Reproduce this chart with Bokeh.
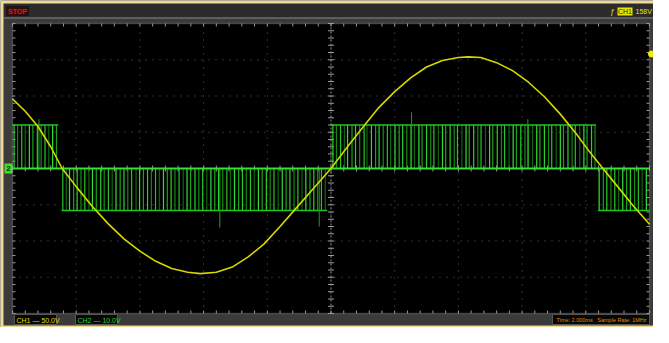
import numpy as np
from bokeh.plotting import figure
from bokeh.models import Range1d, Label, BoxAnnotation
from bokeh.embed import file_html
from bokeh.resources import INLINE

# ---------------- data ----------------
# CH1 (yellow): time in ms, voltage in V   (50 V/div)
ch1_t = [-10.0, -9.6, -9.2, -8.8, -8.44, -8.0, -7.5, -7.0, -6.5, -6.0, -5.5, -5.0,
         -4.5, -4.1, -3.6, -3.1, -2.6, -2.1, -1.6, -1.1, -0.6, 0.0, 0.5, 1.0, 1.5,
         2.0, 2.5, 3.0, 3.5, 4.0, 4.3, 4.7, 5.2, 5.7, 6.2, 6.7, 7.2, 7.7, 8.1, 8.5,
         9.0, 9.5, 10.0]
ch1_v = [96, 79, 58, 30, 0, -25, -52, -76, -97, -114, -128, -138,
         -143, -145, -143, -136, -122, -104, -80, -55, -30, 0, 29, 57, 84,
         106, 125, 140, 149, 153, 154, 153, 146, 135, 119, 99, 75, 48, 24, 2,
         -25, -52, -77]

# CH2 (green) PWM: pulse times in ms (10 V/div)
ch2_high_t = [-9.95, -9.84, -9.71, -9.6, -9.47, -9.36, -9.22, -9.1, -8.98, -8.86, -8.74, -8.62,
              0.06, 0.17, 0.3, 0.42, 0.52, 0.66, 0.77, 0.9, 1.04, 1.13, 1.27, 1.4, 1.51,
              1.64, 1.77, 1.87, 2.01, 2.14, 2.25, 2.38, 2.51, 2.62, 2.76, 2.86, 3.0, 3.13,
              3.23, 3.37, 3.5, 3.6, 3.74, 3.87, 3.97, 4.11, 4.24, 4.34, 4.48, 4.61, 4.71,
              4.85, 4.98, 5.08, 5.22, 5.35, 5.45, 5.59, 5.72, 5.82, 5.96, 6.09, 6.19, 6.33,
              6.46, 6.56, 6.7, 6.83, 6.93, 7.07, 7.2, 7.3, 7.44, 7.57, 7.67, 7.81, 7.94,
              8.04, 8.18, 8.29]
ch2_low_t = [-8.42, -8.31, -8.21, -8.08, -7.97, -7.85, -7.73, -7.6, -7.49, -7.37, -7.23,
             -7.12, -6.99, -6.87, -6.75, -6.62, -6.5, -6.38, -6.26, -6.12, -6.01, -5.89,
             -5.76, -5.64, -5.51, -5.39, -5.26, -5.14, -5.02, -4.9, -4.77, -4.64, -4.52,
             -4.41, -4.27, -4.15, -4.03, -3.9, -3.77, -3.65, -3.53, -3.4, -3.27, -3.16,
             -3.03, -2.9, -2.78, -2.66, -2.53, -2.41, -2.28, -2.16, -2.03, -1.91, -1.79,
             -1.66, -1.53, -1.41, -1.29, -1.16, -1.04, -0.91, -0.79, -0.66, -0.54, -0.42,
             -0.3, -0.18,
             8.42, 8.55, 8.66, 8.79, 8.91, 9.03, 9.16, 9.28, 9.4, 9.53, 9.65, 9.77, 9.9]
ch2_high_v = 12.0
ch2_low_v = -11.6
ch2_high_spans = [(-10.0, -8.56), (0.0, 8.32)]
ch2_low_spans = [(-8.46, -0.12), (8.38, 10.0)]
glitch_t = [-9.17, -3.49, -0.37, 2.53, 6.18]
glitch_v = [13.6, -16.3, -16.0, 15.5, 13.6]

ch1_vdiv = 50.0
ch2_vdiv = 10.0
trig_level = 158.0

# ---------------- geometry ----------------
W, H = 653, 327
L, R, T, B = 12, 4, 23, 14          # border around the scope screen (px)
sx = (W - L - R) / 20.0             # px per ms  (10 div x 2 ms)
sy = (H - T - B) / 8.0              # px per div (8 div)


def cx(px):
    return -10 + (px - L) / sx


def cy(py):
    return 4 - (py - T) / sy


p = figure(width=W, height=H, output_backend="svg", toolbar_location=None,
           x_range=Range1d(cx(0), cx(W)), y_range=Range1d(cy(H), cy(0)),
           x_axis_type=None, y_axis_type=None, min_border=0,
           background_fill_color="#3a3a3a", border_fill_color="#3a3a3a")
p.outline_line_color = None
p.grid.visible = False


def box(l, r, t, b, fill, line=None, lw=1):
    p.add_layout(BoxAnnotation(left=cx(l), right=cx(r), top=cy(t), bottom=cy(b),
                               fill_color=fill, fill_alpha=1.0,
                               line_color=line, line_alpha=1.0 if line else 0.0,
                               line_width=lw, level="underlay"))


def lab(x, y, text, color, size="7px", align="left", bold=False):
    p.add_layout(Label(x=cx(x), y=cy(y), text=text, text_color=color,
                       text_font="Liberation Sans", text_font_size=size,
                       text_font_style="bold" if bold else "normal",
                       text_align=align, text_baseline="middle", level="overlay"))


# scope screen
p.add_layout(BoxAnnotation(left=-10, right=10, bottom=-4, top=4, fill_color="black",
                           fill_alpha=1.0, line_color="#a9a9a9", line_width=1.5,
                           level="underlay"))

# window chrome
box(3, W, 3, 17, "#2b2b2b")
box(3, W, 17, 18, "#858585")
box(0, 3, 0, H, "#f0d890")
box(0, W, 0, 3, "#f0d890")
box(0, W, 325, H, "#f0d890")
box(6, 28, 6, 15, "#3a0b0b", "#151515")
box(617, 632, 7, 15, "#e6e600")
box(14, 56, 314, 324, "#070707", "#555555")
box(75, 117, 314, 324, "#070707", "#555555")
box(552, 649, 314, 324, "#070707", "#555555")
zero_py = T + 4 * sy
box(4, 12, zero_py - 5, zero_py + 5, "#3ce02a")

lab(17, 10.5, "STOP", "#d81e1e", align="center", bold=True)
lab(612, 11, "ƒ", "#e6e600", size="8px", align="center")
lab(624.5, 11, "CH1", "#2a2a00", align="center")
lab(635, 11, "158V", "#e6e600")
lab(16, 319.5, "CH1 — 50.0V", "#dede00")
lab(77, 319.5, "CH2 — 10.0V", "#2fd02f")
lab(556, 319.5, "Time: 2.000ms", "#e08c00", size="5.5px")
lab(646, 319.5, "Sample Rate: 1MHz", "#e08c00", size="5.5px", align="right")
lab(8, zero_py, "2", "#083000", size="8px", align="center", bold=True)

# grid (dotted) inside the screen
gx = np.arange(-8, 8.001, 2)
gy = np.arange(-3, 3.001, 1)
p.segment(x0=gx, y0=-4, x1=gx, y1=4, line_color="#5e5e5e", line_dash="1 6")
p.segment(x0=-10, y0=gy, x1=10, y1=gy, line_color="#5e5e5e", line_dash="1 6")

# center cross and tick marks
p.segment(x0=[0], y0=[-4], x1=[0], y1=[4], line_color="#8c8c8c", line_width=1, line_dash="2 2")
p.segment(x0=[-10], y0=[0], x1=[10], y1=[0], line_color="#8c8c8c", line_width=1)
xt = np.arange(-10, 10.001, 0.4)
yt = np.arange(-4, 4.001, 0.2)
dx, dy = 3 / sx, 3 / sy
tick_c = "#9a9a9a"
p.segment(x0=xt, y0=4 - dy, x1=xt, y1=4, line_color=tick_c)
p.segment(x0=xt, y0=-4, x1=xt, y1=-4 + dy, line_color=tick_c)
p.segment(x0=xt, y0=-dy, x1=xt, y1=dy, line_color=tick_c)
p.segment(x0=-10, y0=yt, x1=-10 + dx, y1=yt, line_color=tick_c)
p.segment(x0=10 - dx, y0=yt, x1=10, y1=yt, line_color=tick_c)
p.segment(x0=-dx, y0=yt, x1=dx, y1=yt, line_color=tick_c)

# CH2 green PWM
shades = ["#2bd12b", "#128c12", "#27c427", "#0e660e", "#34df34", "#19a519"]
hc = [shades[i % len(shades)] for i in range(len(ch2_high_t))]
lc = [shades[(i + 2) % len(shades)] for i in range(len(ch2_low_t))]
hy = ch2_high_v / ch2_vdiv
ly = ch2_low_v / ch2_vdiv
p.segment(x0=ch2_high_t, y0=0, x1=ch2_high_t, y1=hy, line_color=hc, line_width=1.2)
p.segment(x0=ch2_low_t, y0=0, x1=ch2_low_t, y1=ly, line_color=lc, line_width=1.2)
p.segment(x0=[a for a, b in ch2_high_spans], y0=hy, x1=[b for a, b in ch2_high_spans], y1=hy,
          line_color="#22c422", line_width=1.5)
p.segment(x0=[a for a, b in ch2_low_spans], y0=ly, x1=[b for a, b in ch2_low_spans], y1=ly,
          line_color="#22c422", line_width=1.5)
p.segment(x0=glitch_t, y0=0, x1=glitch_t, y1=[v / ch2_vdiv for v in glitch_v],
          line_color="#1f9f1f", line_width=1)
p.segment(x0=[-10], y0=[0], x1=[10], y1=[0], line_color="#36e036", line_width=2)

# CH1 yellow sine
p.line(ch1_t, [v / ch1_vdiv for v in ch1_v], line_color="#d6d600", line_width=1.6)

# trigger level marker on the right edge
p.scatter([cx(W - 2)], [trig_level / ch1_vdiv], size=6, color="#f0f000")

open("out.html", "w").write(file_html(p, INLINE))
